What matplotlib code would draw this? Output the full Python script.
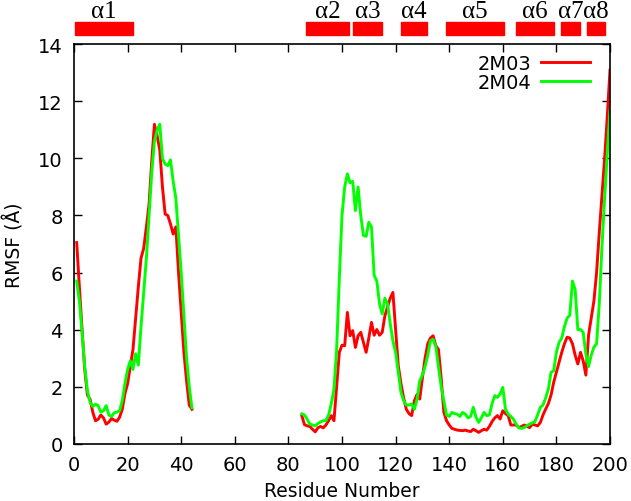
import matplotlib
matplotlib.use("Agg")
import matplotlib.pyplot as plt
import matplotlib.transforms as mtransforms
from matplotlib.patches import Rectangle
import numpy as np

# residues 1-44 (N-terminal part), 85-200 (C-terminal part); gap in between
res_a = np.arange(1, 45)
res_b = np.arange(85, 201)

rmsf_2m03_a = [7.05, 5.50, 4.00, 2.60, 1.70, 1.55, 1.10, 0.80, 0.85, 1.00,
               0.90, 0.68, 0.75, 0.88, 0.82, 0.78, 0.92, 1.20, 1.75, 2.10,
               2.70, 3.30, 4.40, 5.50, 6.50, 6.85, 7.60, 8.40, 9.90, 11.20,
               10.80, 10.30, 9.00, 8.05, 8.00, 7.70, 7.35, 7.60, 6.00, 4.60,
               3.20, 2.20, 1.35, 1.20]
rmsf_2m04_a = [5.70, 5.00, 3.90, 2.70, 1.85, 1.45, 1.30, 1.38, 1.33, 1.10,
               1.15, 1.33, 1.00, 0.95, 1.08, 1.10, 1.15, 1.50, 2.10, 2.60,
               2.90, 2.60, 3.15, 2.75, 4.10, 5.30, 6.50, 8.00, 9.50, 10.60,
               11.00, 11.20, 10.00, 9.80, 9.75, 9.95, 9.20, 8.60, 7.30, 6.00,
               4.50, 3.00, 2.00, 1.25]

rmsf_2m03_b = [0.98, 0.66, 0.62, 0.60, 0.50, 0.41, 0.55, 0.60, 0.55, 0.65,
               0.80, 0.98, 0.80, 2.00, 3.20, 3.45, 3.43, 4.60, 3.78, 3.96,
               3.37, 3.78, 3.90, 3.55, 3.20, 3.70, 4.25, 3.80, 4.00, 3.80,
               3.90, 4.48, 4.80, 5.10, 5.30, 4.00, 2.73, 2.10, 1.60, 1.20,
               1.05, 0.98, 1.50, 1.72, 1.56, 2.30, 3.00, 3.50, 3.70, 3.78,
               3.43, 3.30, 2.30, 1.10, 0.80, 0.65, 0.53, 0.50, 0.47, 0.46,
               0.45, 0.47, 0.44, 0.42, 0.50, 0.45, 0.39, 0.45, 0.50, 0.47,
               0.60, 0.77, 0.90, 0.98, 0.86, 1.15, 1.05, 0.98, 0.65, 0.65,
               0.65, 0.56, 0.60, 0.65, 0.60, 0.56, 0.68, 0.65, 0.62, 0.74,
               1.00, 1.21, 1.40, 1.70, 2.15, 2.50, 2.85, 3.20, 3.50, 3.73,
               3.70, 3.50, 3.10, 2.79, 3.20, 2.90, 2.40, 3.80, 4.40, 5.00,
               6.00, 7.40, 8.70, 10.00, 11.50, 13.10]
rmsf_2m04_b = [1.04, 1.00, 0.85, 0.68, 0.65, 0.62, 0.70, 0.76, 0.80, 0.80,
               1.00, 1.40, 1.90, 3.30, 5.80, 8.00, 9.00, 9.46, 9.15, 9.20,
               8.17, 9.00, 8.00, 7.30, 7.27, 7.76, 7.60, 5.90, 5.70, 4.90,
               4.55, 5.10, 4.90, 4.20, 3.60, 3.20, 2.50, 1.80, 1.50, 1.35,
               1.35, 1.39, 1.20, 1.55, 2.20, 2.40, 2.70, 3.10, 3.60, 3.66,
               3.40, 2.70, 2.00, 1.50, 1.00, 0.95, 1.09, 1.05, 1.03, 0.95,
               1.09, 1.03, 0.90, 0.95, 1.27, 0.92, 0.74, 0.90, 1.09, 0.98,
               1.00, 1.40, 1.68, 1.62, 1.74, 1.97, 1.21, 1.03, 0.95, 0.85,
               0.68, 0.55, 0.53, 0.56, 0.62, 0.68, 0.72, 0.77, 1.00, 1.27,
               1.35, 1.60, 1.91, 2.50, 2.55, 3.20, 3.55, 3.70, 4.10, 4.40,
               4.50, 5.70, 5.40, 4.00, 4.00, 3.90, 3.14, 2.70, 3.10, 3.38,
               3.50, 4.90, 6.90, 8.60, 10.20, 11.70]

# helices (start, end residue)
helix_names = ["α1", "α2", "α3", "α4", "α5", "α6", "α7", "α8"]
helix_start = [0.3, 86.4, 104.2, 122.2, 138.8, 165.0, 181.9, 191.4]
helix_end = [22.0, 102.7, 115.1, 131.7, 160.3, 179.2, 188.7, 198.2]

plt.rcParams["font.family"] = "DejaVu Sans"

fig = plt.figure(figsize=(6.31, 5.02), dpi=100)
ax = fig.add_axes([0.1173, 0.1145, 0.8494, 0.7949])

ax.plot(res_a, rmsf_2m03_a, color="#ff0000", lw=2.1, label="2M03")
ax.plot(res_b, rmsf_2m03_b, color="#ff0000", lw=2.1)
ax.plot(res_a, rmsf_2m04_a, color="#00ff00", lw=2.1, label="2M04")
ax.plot(res_b, rmsf_2m04_b, color="#00ff00", lw=2.1)

ax.set_xlim(0, 200)
ax.set_ylim(0, 14)
ax.set_xticks(range(0, 201, 20))
ax.set_yticks(range(0, 15, 2))
ax.tick_params(direction="in", length=6, width=1, top=True, right=True,
               labelsize=14, pad=8)
for s in ax.spines.values():
    s.set_linewidth(1.2)
ax.set_xlabel("Residue Number", fontsize=13.5, labelpad=5)
ax.set_ylabel("RMSF (Å)", fontsize=13.5, labelpad=10)

leg = ax.legend(loc="upper right", bbox_to_anchor=(0.98, 1.0), frameon=False,
                markerfirst=False, fontsize=14, handlelength=2.5,
                handletextpad=0.5, labelspacing=0.0, borderaxespad=0.1)

# helix bars above the plot
trans = mtransforms.blended_transform_factory(ax.transData, ax.transAxes)
for name, a, b in zip(helix_names, helix_start, helix_end):
    ax.add_patch(Rectangle((a, 1.024), b - a, 0.032, transform=trans,
                           color="#ff0000", clip_on=False))
    ax.text((a + b) / 2, 1.084, name, transform=trans, ha="center", va="center",
            fontsize=18, family="Liberation Serif")

fig.savefig("out.png", dpi=100)
